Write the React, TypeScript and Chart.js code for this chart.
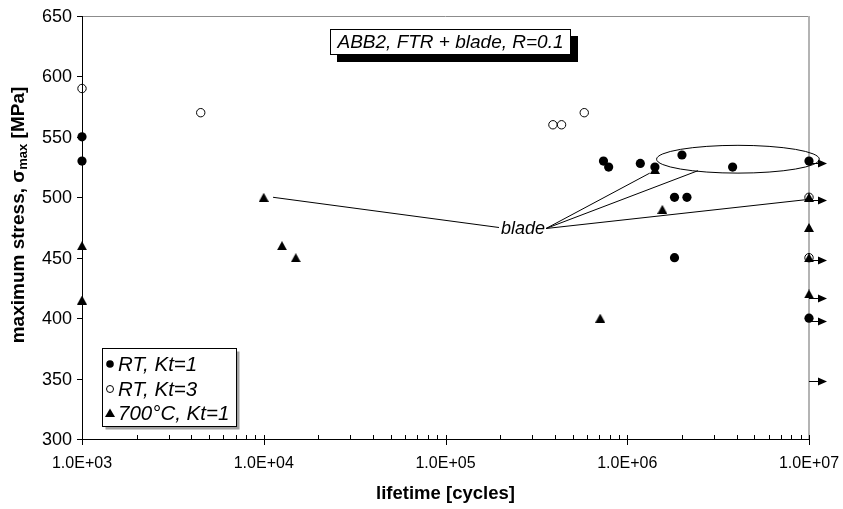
import { useEffect, useRef } from 'react';
import { Chart, registerables } from 'chart.js';

Chart.register(...registerables);

const FONT = '"Liberation Sans", Arial, Helvetica, sans-serif';

// ---- data (lifetime in cycles, max stress in MPa) ----
const rtKt1Cycles = [1e3, 1e3, 7.4e5, 7.9e5, 1.18e6, 1.42e6, 2.0e6, 3.8e6, 1e7, 1.82e6, 2.13e6, 1.82e6, 1e7];
const rtKt1Stress = [550, 530, 530, 525, 528, 525, 535, 525, 530, 500, 500, 450, 400];

const rtKt3Cycles = [1e3, 4.5e3, 3.9e5, 4.35e5, 5.8e5, 1e7, 1e7];
const rtKt3Stress = [590, 570, 560, 560, 570, 500, 450];

const t700Cycles = [1e3, 1e3, 1e4, 1.26e4, 1.5e4, 7.1e5, 1.42e6, 1.56e6, 1e7, 1e7, 1e7, 1e7];
const t700Stress = [460, 415, 500, 460, 450, 400, 523, 490, 500, 475, 450, 420];

const seriesLabels = ['RT, Kt=1', 'RT, Kt=3', '700°C, Kt=1'];

// run-out arrows at 1e7 cycles
const runoutCycles = 1e7;
const runoutStress = [528, 498, 448, 417, 398, 348];

// axis ticks
const xTickValues = [1e3, 1e4, 1e5, 1e6, 1e7];
const xTickLabels = ['1.0E+03', '1.0E+04', '1.0E+05', '1.0E+06', '1.0E+07'];
const yTickValues = [300, 350, 400, 450, 500, 550, 600, 650];
const yTickLabels = ['300', '350', '400', '450', '500', '550', '600', '650'];

// annotation "blade"
const bladeText = 'blade';
const bladeAt = [2.67e5, 475];
const bladeTargetCycles = [1.125e4, 1.33e6, 2.45e6, 9.6e6];
const bladeTargetStress = [500, 520, 522, 498];
// ellipse bounds (cycles x, stress y)
const ellipseCycles = [1.45e6, 1.14e7];
const ellipseStress = [520, 543];

const titleText = 'ABB2, FTR + blade, R=0.1';
const xAxisTitle = 'lifetime [cycles]';

function zip(xs: number[], ys: number[]) {
  return xs.map((x, i) => ({ x, y: ys[i] }));
}

function makeTriangle(w: number, h: number) {
  const c = document.createElement('canvas');
  c.width = w;
  c.height = h;
  const g = c.getContext('2d')!;
  g.fillStyle = '#000';
  g.beginPath();
  g.moveTo(w / 2, 0);
  g.lineTo(w, h);
  g.lineTo(0, h);
  g.closePath();
  g.fill();
  return c;
}

function font(size: number, weight = 'normal', style = 'normal') {
  return `${style} ${weight} ${size}px ${FONT}`;
}

const decorPlugin = {
  id: 'decor',
  beforeDatasetsDraw(chart: any) {
    const ctx = chart.ctx as CanvasRenderingContext2D;
    const xs = chart.scales.x;
    const ys = chart.scales.y;
    const { left, right, top, bottom } = chart.chartArea;
    ctx.save();
    // top frame line (gray)
    ctx.strokeStyle = '#8c8c8c';
    ctx.lineWidth = 1;
    ctx.beginPath();
    ctx.moveTo(left, top + 0.5);
    ctx.lineTo(right, top + 0.5);
    ctx.stroke();
    // right frame line (light gray, thicker)
    ctx.strokeStyle = '#b4b4b4';
    ctx.lineWidth = 2;
    ctx.beginPath();
    ctx.moveTo(right, top);
    ctx.lineTo(right, bottom);
    ctx.stroke();
    // axes
    ctx.strokeStyle = '#000';
    ctx.lineWidth = 1;
    ctx.beginPath();
    ctx.moveTo(left + 0.5, top);
    ctx.lineTo(left + 0.5, bottom);
    ctx.moveTo(left, bottom + 0.5);
    ctx.lineTo(right + 1, bottom + 0.5);
    ctx.stroke();
    // y ticks
    ctx.beginPath();
    yTickValues.forEach((v) => {
      const py = Math.round(ys.getPixelForValue(v)) + 0.5;
      ctx.moveTo(left - 5, py);
      ctx.lineTo(left + 0.5, py);
    });
    ctx.stroke();
    // x ticks: major crossing, minor inside
    ctx.beginPath();
    const dMin = Math.round(Math.log10(xs.min));
    const dMax = Math.round(Math.log10(xs.max));
    for (let d = dMin; d <= dMax; d++) {
      for (let k = 1; k <= 9; k++) {
        const v = k * Math.pow(10, d);
        if (v < xs.min || v > xs.max) continue;
        const px = Math.round(xs.getPixelForValue(v)) + 0.5;
        if (k === 1) {
          ctx.moveTo(px, bottom - 4);
          ctx.lineTo(px, bottom + 6);
        } else {
          ctx.moveTo(px, bottom - 4);
          ctx.lineTo(px, bottom);
        }
      }
    }
    ctx.stroke();
    // tick labels
    ctx.fillStyle = '#000';
    ctx.font = font(18);
    ctx.textAlign = 'right';
    ctx.textBaseline = 'middle';
    yTickValues.forEach((v, i) => {
      ctx.fillText(yTickLabels[i], left - 10, ys.getPixelForValue(v) + 1);
    });
    ctx.font = font(16);
    ctx.textAlign = 'center';
    ctx.textBaseline = 'top';
    xTickValues.forEach((v, i) => {
      ctx.fillText(xTickLabels[i], xs.getPixelForValue(v), bottom + 17);
    });
    // x axis title
    ctx.font = font(18.5, 'bold');
    ctx.textBaseline = 'middle';
    ctx.fillText(xAxisTitle, (left + right) / 2, 494);
    // y axis title with subscript
    ctx.save();
    ctx.translate(19, 215);
    ctx.rotate(-Math.PI / 2);
    const big = font(19, 'bold');
    const small = font(13, 'bold');
    const p1 = 'maximum stress, ';
    const p2 = 'σ';
    const p3 = 'max';
    const p4 = ' [MPa]';
    ctx.font = big;
    const w1 = ctx.measureText(p1).width;
    const w2 = ctx.measureText(p2).width;
    const w4 = ctx.measureText(p4).width;
    ctx.font = small;
    const w3 = ctx.measureText(p3).width;
    let x0 = -(w1 + w2 + w3 + w4) / 2;
    ctx.textAlign = 'left';
    ctx.textBaseline = 'middle';
    ctx.font = big;
    ctx.fillText(p1, x0, 0);
    x0 += w1;
    ctx.fillText(p2, x0, 0);
    x0 += w2;
    ctx.font = small;
    ctx.fillText(p3, x0, 4);
    x0 += w3;
    ctx.font = big;
    ctx.fillText(p4, x0, 0);
    ctx.restore();
    ctx.restore();
  },
  afterDatasetsDraw(chart: any) {
    const ctx = chart.ctx as CanvasRenderingContext2D;
    const xs = chart.scales.x;
    const ys = chart.scales.y;
    ctx.save();
    ctx.strokeStyle = '#000';
    ctx.fillStyle = '#000';
    ctx.lineWidth = 1;

    // run-out arrows
    runoutStress.forEach((s) => {
      const px = xs.getPixelForValue(runoutCycles);
      const py = Math.round(ys.getPixelForValue(s)) + 0.5;
      ctx.beginPath();
      ctx.moveTo(px, py);
      ctx.lineTo(px + 10, py);
      ctx.stroke();
      ctx.beginPath();
      ctx.moveTo(px + 9, py - 4);
      ctx.lineTo(px + 18, py);
      ctx.lineTo(px + 9, py + 4);
      ctx.closePath();
      ctx.fill();
    });

    // ellipse
    const ex1 = xs.getPixelForValue(ellipseCycles[0]);
    const ex2 = xs.getPixelForValue(ellipseCycles[1]);
    const ey1 = ys.getPixelForValue(ellipseStress[1]);
    const ey2 = ys.getPixelForValue(ellipseStress[0]);
    ctx.beginPath();
    ctx.ellipse((ex1 + ex2) / 2, (ey1 + ey2) / 2, (ex2 - ex1) / 2, (ey2 - ey1) / 2, 0, 0, Math.PI * 2);
    ctx.stroke();

    // blade label + leader lines
    const bx = xs.getPixelForValue(bladeAt[0]);
    const by = ys.getPixelForValue(bladeAt[1]);
    ctx.font = font(18, 'normal', 'italic');
    const bw = ctx.measureText(bladeText).width;
    ctx.beginPath();
    bladeTargetCycles.forEach((c, i) => {
      const tx = xs.getPixelForValue(c);
      const ty = ys.getPixelForValue(bladeTargetStress[i]);
      if (tx < bx) {
        ctx.moveTo(bx - bw / 2 - 2, by);
      } else {
        ctx.moveTo(bx + bw / 2 + 1, by + 1);
      }
      ctx.lineTo(tx, ty);
    });
    ctx.stroke();
    ctx.textAlign = 'center';
    ctx.textBaseline = 'middle';
    ctx.fillText(bladeText, bx, by + 1);

    // title box
    ctx.fillStyle = '#000';
    ctx.fillRect(337, 36, 241, 26);
    ctx.fillStyle = '#fff';
    ctx.fillRect(330, 29, 241, 26);
    ctx.strokeStyle = '#000';
    ctx.strokeRect(330.5, 29.5, 240, 25);
    ctx.fillStyle = '#000';
    ctx.font = font(19, 'normal', 'italic');
    ctx.textAlign = 'center';
    ctx.textBaseline = 'middle';
    ctx.fillText(titleText, 450.5, 43);

    // legend
    const lx = 102.5, ly = 348.5, lw = 134, lh = 78;
    ctx.fillStyle = '#a0a0a0';
    ctx.fillRect(lx + 3, ly + 3, lw, lh);
    ctx.fillStyle = '#fff';
    ctx.fillRect(lx, ly, lw, lh);
    ctx.strokeStyle = '#000';
    ctx.strokeRect(lx, ly, lw, lh);
    const rows = [364, 389, 413];
    const mx = 110;
    ctx.fillStyle = '#000';
    ctx.beginPath();
    ctx.arc(mx, rows[0], 3.8, 0, Math.PI * 2);
    ctx.fill();
    ctx.beginPath();
    ctx.arc(mx, rows[1], 3.5, 0, Math.PI * 2);
    ctx.stroke();
    ctx.beginPath();
    ctx.moveTo(mx, rows[2] - 4.5);
    ctx.lineTo(mx + 5, rows[2] + 4);
    ctx.lineTo(mx - 5, rows[2] + 4);
    ctx.closePath();
    ctx.fill();
    ctx.font = font(20.5, 'normal', 'italic');
    ctx.textAlign = 'left';
    ctx.textBaseline = 'middle';
    seriesLabels.forEach((t, i) => ctx.fillText(t, 118, rows[i] + 1));
    ctx.restore();
  },
};

export default function App() {
  const canvasRef = useRef<HTMLCanvasElement | null>(null);

  useEffect(() => {
    const canvas = canvasRef.current;
    if (!canvas) return;
    const tri = makeTriangle(10, 9);
    const chart = new Chart(canvas, {
      type: 'scatter',
      data: {
        datasets: [
          {
            label: seriesLabels[0],
            data: zip(rtKt1Cycles, rtKt1Stress),
            pointStyle: 'circle',
            pointRadius: 4.6,
            pointBackgroundColor: '#000',
            pointBorderColor: '#000',
            pointBorderWidth: 0,
            showLine: false,
            clip: false,
          },
          {
            label: seriesLabels[1],
            data: zip(rtKt3Cycles, rtKt3Stress),
            pointStyle: 'circle',
            pointRadius: 4.2,
            pointBackgroundColor: 'rgba(0,0,0,0)',
            pointBorderColor: '#000',
            pointBorderWidth: 1,
            showLine: false,
            clip: false,
          },
          {
            label: seriesLabels[2],
            data: zip(t700Cycles, t700Stress),
            pointStyle: tri as any,
            pointRadius: 5,
            pointBackgroundColor: '#000',
            pointBorderColor: '#000',
            showLine: false,
            clip: false,
          },
        ],
      },
      options: {
        animation: false,
        responsive: true,
        maintainAspectRatio: false,
        events: [],
        layout: { autoPadding: false, padding: { left: 82, right: 34, top: 16, bottom: 70 } },
        plugins: { legend: { display: false }, tooltip: { enabled: false } },
        scales: {
          x: { type: 'logarithmic', min: 1e3, max: 1e7, display: false },
          y: { type: 'linear', min: 300, max: 650, display: false },
        },
      },
      plugins: [decorPlugin],
    });
    return () => chart.destroy();
  }, []);

  return (
    <div style={{ position: 'fixed', left: 0, top: 0, width: 843, height: 509, background: '#fff' }}>
      <canvas ref={canvasRef} />
    </div>
  );
}
